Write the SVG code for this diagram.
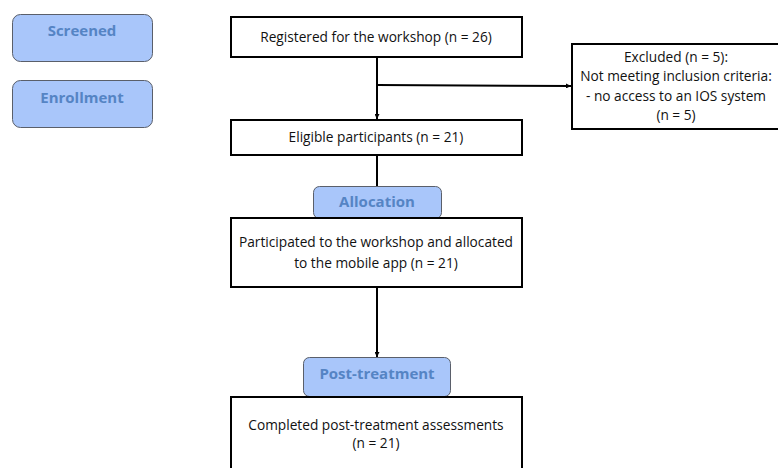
<svg xmlns="http://www.w3.org/2000/svg" width="778" height="468" viewBox="0 0 778 468">
<style>
.stage{fill:#a9c6fa;stroke:#5a5f6a;stroke-width:1}
.stxt{font-family:"Open Sans","Liberation Sans",sans-serif;font-weight:bold;font-size:15px;fill:#5584c4;text-anchor:middle}
.box{fill:#fff;stroke:#000;stroke-width:2}
.txt{font-family:"Open Sans","Liberation Sans",sans-serif;font-size:13.7px;fill:#111;text-anchor:middle}
.conn{stroke:#000;stroke-width:2;fill:none}
</style>
<defs>
<marker id="ah" viewBox="0 0 10 10" refX="10" refY="5" markerWidth="5" markerHeight="5" orient="auto" markerUnits="userSpaceOnUse"><path d="M0,0L10,5L0,10z" fill="#000"/></marker>
</defs>
<rect width="778" height="468" fill="#fff"/>
<g id="connectors">
<line class="conn" x1="377" y1="57" x2="377" y2="119" marker-end="url(#ah)"/>
<line class="conn" x1="377" y1="85" x2="571" y2="86" marker-end="url(#ah)"/>
<line class="conn" x1="377" y1="155" x2="377" y2="186"/>
<line class="conn" x1="377" y1="287" x2="377" y2="357" marker-end="url(#ah)"/>
</g>
<g id="screened"><rect class="stage" x="12.5" y="14.5" width="140" height="47" rx="8"/><text class="stxt" x="82" y="36">Screened</text></g>
<g id="enrollment"><rect class="stage" x="12.5" y="80.5" width="140" height="47" rx="8"/><text class="stxt" x="82" y="103">Enrollment</text></g>
<g id="registered"><rect class="box" x="231" y="17" width="291" height="40"/><text class="txt" x="376" y="42">Registered for the workshop (n = 26)</text></g>
<g id="excluded"><rect class="box" x="572" y="44" width="210" height="85"/>
<text class="txt" x="676" y="62">Excluded (n = 5):</text>
<text class="txt" x="676" y="81">Not meeting inclusion criteria:</text>
<text class="txt" x="676" y="101">-  no access to an IOS system</text>
<text class="txt" x="676" y="120">(n = 5)</text></g>
<g id="eligible"><rect class="box" x="231" y="120" width="291" height="35"/><text class="txt" x="376" y="142">Eligible participants (n = 21)</text></g>
<g id="allocation"><rect class="stage" x="313.5" y="186.5" width="128" height="32" rx="6"/><text class="stxt" x="377" y="207">Allocation</text></g>
<g id="participated"><rect class="box" x="231" y="218" width="291" height="69"/>
<text class="txt" x="376" y="247">Participated to the workshop and allocated</text>
<text class="txt" x="376" y="268">to the mobile app  (n = 21)</text></g>
<g id="posttreatment"><rect class="stage" x="303.5" y="357.5" width="147" height="39" rx="6"/><text class="stxt" x="377" y="379">Post-treatment</text></g>
<g id="completed"><rect class="box" x="231" y="397" width="291" height="80"/>
<text class="txt" x="376" y="430">Completed post-treatment assessments</text>
<text class="txt" x="376" y="448">(n = 21)</text></g>
</svg>
